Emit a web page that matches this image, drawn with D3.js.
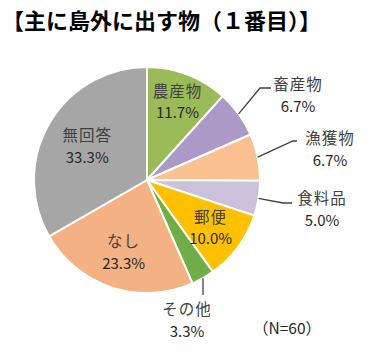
<!DOCTYPE html>
<html>
<head>
<meta charset="utf-8">
<script src="https://cdn.jsdelivr.net/npm/d3@7"></script>
<style>
  body { margin: 0; background: #fff; }
  text { font-family: "Noto Sans CJK JP", "Noto Sans", sans-serif; }
</style>
</head>
<body>
<script>
const categories = ['農産物', '畜産物', '漁獲物', '食料品', '郵便', 'その他', 'なし', '無回答'];
const values = [11.7, 6.7, 6.7, 5.0, 10.0, 3.3, 23.3, 33.3];
const percentLabels = ['11.7%', '6.7%', '6.7%', '5.0%', '10.0%', '3.3%', '23.3%', '33.3%'];
const colors = ['#9bbb59', '#ab9ac8', '#fac090', '#ccc1da', '#ffc000', '#70ad47', '#f4b183', '#a6a6a6'];

// label placement, relative to the pie centre
const labelLayout = [
	{inside: true, r: 85},
	{inside: false, text: [151, -97], path: [[113, -92], [124, -92]]},
	{inside: false, text: [183, -43], path: [[146, -39], [150, -39]]},
	{inside: false, text: [175, 17], path: [[136, 23], [145, 23]]},
	{inside: true, r: 79},
	{inside: false, text: [40, 128], path: [[56, 115]]},
	{inside: true, r: 75},
	{inside: true, r: 69}
];

const width = 379, height = 353;
const center = {x: 147, y: 180};
const radius = 113;

var svg = d3.select('body').append('svg')
	.attr('width', width)
	.attr('height', height);

svg.append('text')
	.attr('x', 2)
	.attr('y', 29)
	.attr('font-size', 22)
	.attr('font-weight', 'bold')
	.attr('fill', '#000')
	.text('【主に島外に出す物（１番目）】');

var pie = d3.pie().sort(null).value((d) => d);
var arcs = pie(values);
var arc = d3.arc().innerRadius(0).outerRadius(radius);

var g = svg.append('g')
	.attr('transform', `translate(${center.x}, ${center.y})`);

g.selectAll('path.slice')
	.data(arcs)
	.enter()
	.append('path')
	.attr('class', 'slice')
	.attr('d', arc)
	.attr('fill', (d, i) => colors[i])
	.attr('stroke', '#fff')
	.attr('stroke-width', 2);

arcs.forEach((a, i) => {
	let lay = labelLayout[i];
	let pos;
	if (lay.inside) {
		pos = d3.arc().innerRadius(lay.r).outerRadius(lay.r).centroid(a);
		pos = [pos[0], pos[1] - 11];
	} else {
		let mid = (a.startAngle + a.endAngle) / 2;
		let p0 = [radius * Math.sin(mid), -radius * Math.cos(mid)];
		g.append('path')
			.attr('d', d3.line()([p0].concat(lay.path)))
			.attr('fill', 'none')
			.attr('stroke', '#404040')
			.attr('stroke-width', 1.3);
		pos = lay.text;
	}
	g.append('text')
		.attr('x', pos[0])
		.attr('y', pos[1])
		.attr('text-anchor', 'middle')
		.attr('dominant-baseline', 'central')
		.attr('font-size', 15.5)
		.attr('letter-spacing', 1)
		.attr('fill', '#404040')
		.text(categories[i]);
	g.append('text')
		.attr('x', pos[0])
		.attr('y', pos[1] + 22)
		.attr('text-anchor', 'middle')
		.attr('dominant-baseline', 'central')
		.attr('font-size', 15)
		.attr('fill', '#262626')
		.text(percentLabels[i]);
});

svg.append('text')
	.attr('x', 287)
	.attr('y', 327)
	.attr('text-anchor', 'middle')
	.attr('dominant-baseline', 'central')
	.attr('font-size', 15.5)
	.attr('fill', '#262626')
	.text('（N=60）');
</script>
</body>
</html>
